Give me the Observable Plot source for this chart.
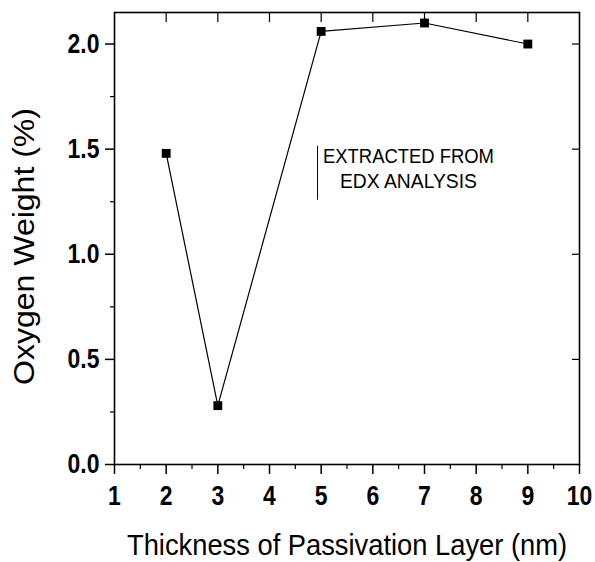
<!DOCTYPE html>
<html>
<head>
<meta charset="utf-8">
<script src="https://cdn.jsdelivr.net/npm/d3@7"></script>
<script src="https://cdn.jsdelivr.net/npm/@observablehq/plot@0.6"></script>
<style>
  html, body { margin: 0; padding: 0; background: #fff; }
  #chart svg { display: block; }
</style>
</head>
<body>
<div id="chart"></div>
<script>
const thickness = [2, 3, 5, 7, 9];
const oxygenWeight = [1.48, 0.28, 2.06, 2.10, 2.00];
const xTicks = [1, 2, 3, 4, 5, 6, 7, 8, 9, 10];
const xMinorTicks = [1.5, 2.5, 3.5, 4.5, 5.5, 6.5, 7.5, 8.5, 9.5];
const yTicks = [0, 0.5, 1.0, 1.5, 2.0];
const yMinorTicks = [0.25, 0.75, 1.25, 1.75];
const xLabel = "Thickness of Passivation Layer (nm)";
const yLabel = "Oxygen Weight (%)";
const noteLine1 = "EXTRACTED FROM";
const noteLine2 = "EDX ANALYSIS";

const data = thickness.map((t, i) => ({t, w: oxygenWeight[i]}));

const W = 595, H = 562;
const mL = 114, mR = 16, mT = 12, mB = 98;
const frameH = H - mT - mB, frameW = W - mL - mR;
const font = "'Liberation Sans', Arial, sans-serif";

const chart = Plot.plot({
  width: W,
  height: H,
  marginLeft: mL,
  marginRight: mR,
  marginTop: mT,
  marginBottom: mB,
  style: {fontFamily: font, background: "#fff", color: "#000"},
  x: {domain: [1, 10]},
  y: {domain: [0, 2.15]},
  marks: [
    Plot.axisX(xTicks, {anchor: "bottom", tickSize: 10, tickPadding: 11, fontSize: 27, fontWeight: "bold", label: null, strokeWidth: 1.5}),
    Plot.axisX(xMinorTicks, {anchor: "bottom", tickSize: 5, tickFormat: () => "", label: null, strokeWidth: 1.2}),
    Plot.axisY(yTicks, {anchor: "left", tickSize: 9, tickPadding: 6, fontSize: 27, fontWeight: "bold", tickFormat: d3.format(".1f"), label: null, strokeWidth: 1.5}),
    Plot.axisY(yMinorTicks, {anchor: "left", tickSize: 4, tickFormat: () => "", label: null, strokeWidth: 1.2}),
    Plot.tickX(xTicks.slice(1, -1), {x: d => d, insetBottom: frameH - 10, stroke: "#000", strokeWidth: 1.2}),
    Plot.tickY(yTicks.slice(1), {y: d => d, insetLeft: frameW - 7, stroke: "#000", strokeWidth: 1.2}),
    Plot.frame({stroke: "#000", strokeWidth: 1.6}),
    Plot.line(data, {x: "t", y: "w", stroke: "#000", strokeWidth: 1.2}),
    Plot.dot(data, {x: "t", y: "w", symbol: "square", r: 5, fill: "#000", stroke: "none"}),
    Plot.ruleX([4.93], {y1: 1.257, y2: 1.514, stroke: "#000", strokeWidth: 1}),
    Plot.text([noteLine1], {x: 6.69, y: 1.41, dy: -12, text: d => d, fontSize: 21, textAnchor: "middle", fill: "#000"}),
    Plot.text([noteLine2], {x: 6.69, y: 1.41, dy: 13, text: d => d, fontSize: 21, textAnchor: "middle", fill: "#000"}),
    Plot.text([xLabel], {frameAnchor: "bottom", dy: 90, lineAnchor: "bottom", textAnchor: "middle", text: d => d, fontSize: 30, fill: "#000"}),
    Plot.text([yLabel], {frameAnchor: "left", dx: -81, dy: 8, rotate: -90, lineAnchor: "bottom", textAnchor: "middle", text: d => d, fontSize: 30, fill: "#000"})
  ]
});

document.getElementById("chart").appendChild(chart);

// condense text to mimic the narrow typeface of the original
const targetLengths = new Map([[xLabel, 440], [yLabel, 277], [noteLine1, 171], [noteLine2, 137]]);
d3.select(chart).selectAll("text").each(function() {
  const t = this.textContent;
  if (!t) return;
  const len = this.getComputedTextLength();
  const target = targetLengths.has(t) ? targetLengths.get(t) : len * 0.85;
  this.setAttribute("textLength", target);
  this.setAttribute("lengthAdjust", "spacingAndGlyphs");
});
</script>
</body>
</html>
